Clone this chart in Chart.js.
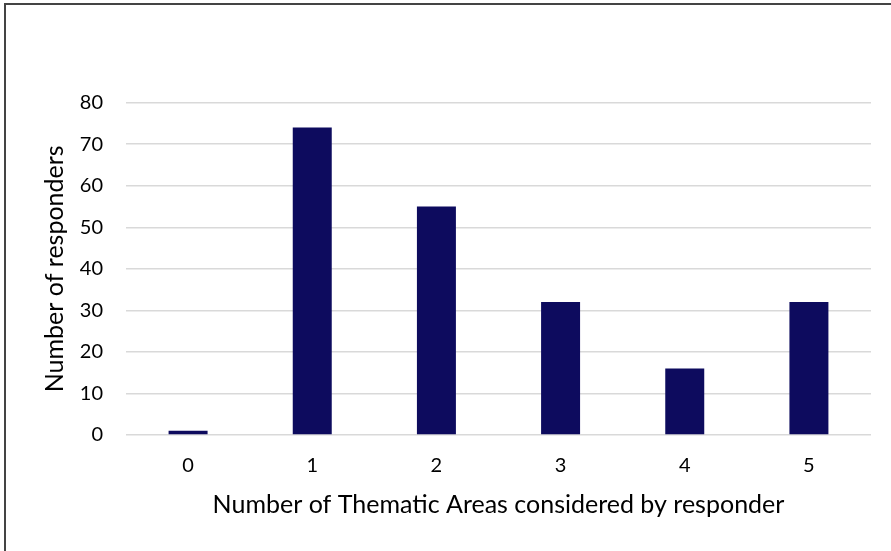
<!DOCTYPE html>
<html>
<head>
<meta charset="utf-8">
<script src="https://cdn.jsdelivr.net/npm/chart.js@4.4.0/dist/chart.umd.min.js"></script>
<style>
  html, body { margin: 0; padding: 0; background: #fff; }
  #wrap { position: relative; width: 891px; height: 551px; }
</style>
</head>
<body>
<div id="wrap"><canvas id="bar_chart" width="891" height="551"></canvas></div>
<script>
// data
const categories = ["0", "1", "2", "3", "4", "5"];
const responders = [1, 74, 55, 32, 16, 32];
const yTicks = [0, 10, 20, 30, 40, 50, 60, 70, 80];

const fontName = "Lato, 'Open Sans', sans-serif";

// frame lines on left and top edge (like the pasted picture)
const framePlugin = {
    id: 'frame',
    beforeDraw(chart) {
        const ctx = chart.ctx;
        ctx.save();
        ctx.fillStyle = '#fff';
        ctx.fillRect(0, 0, chart.width, chart.height);
        ctx.strokeStyle = '#444';
        ctx.lineWidth = 2;
        ctx.beginPath();
        ctx.moveTo(5, chart.height);
        ctx.lineTo(5, 4);
        ctx.lineTo(chart.width, 4);
        ctx.stroke();
        ctx.restore();
    }
};

new Chart(document.getElementById("bar_chart").getContext("2d"), {
    type: 'bar',
    data: {
        labels: categories,
        datasets: [{
            label: "Number of responders",
            data: responders,
            backgroundColor: '#0d0b5e',
            barPercentage: 0.314,
            categoryPercentage: 1
        }]
    },
    options: {
        responsive: false,
        animation: false,
        layout: { padding: { left: 0, right: 20, top: 102.7, bottom: 0 } },
        plugins: {
            legend: { display: false },
            tooltip: { enabled: false }
        },
        scales: {
            x: {
                grid: { display: false, drawTicks: false },
                border: { display: false },
                ticks: { color: '#000', font: { family: fontName, size: 20 }, padding: 19 },
                title: {
                    display: true,
                    text: 'Number of Thematic Areas considered by responder',
                    color: '#000',
                    font: { family: fontName, size: 25 },
                    padding: { top: 0, bottom: 31 }
                },
                afterFit(scale) { scale.height = 116; }
            },
            y: {
                min: 0,
                max: 80,
                afterBuildTicks(scale) { scale.ticks = yTicks.map(v => ({ value: v })); },
                grid: { color: '#d9d9d9', lineWidth: 1.5, drawTicks: false },
                border: { display: false },
                ticks: { color: '#000', font: { family: fontName, size: 20 }, padding: 23 },
                title: {
                    display: true,
                    text: 'Number of responders',
                    color: '#000',
                    font: { family: fontName, size: 25 },
                    padding: { top: 40, bottom: 0 }
                },
                afterFit(scale) { scale.width = 126; }
            }
        }
    },
    plugins: [framePlugin]
});
</script>
</body>
</html>
